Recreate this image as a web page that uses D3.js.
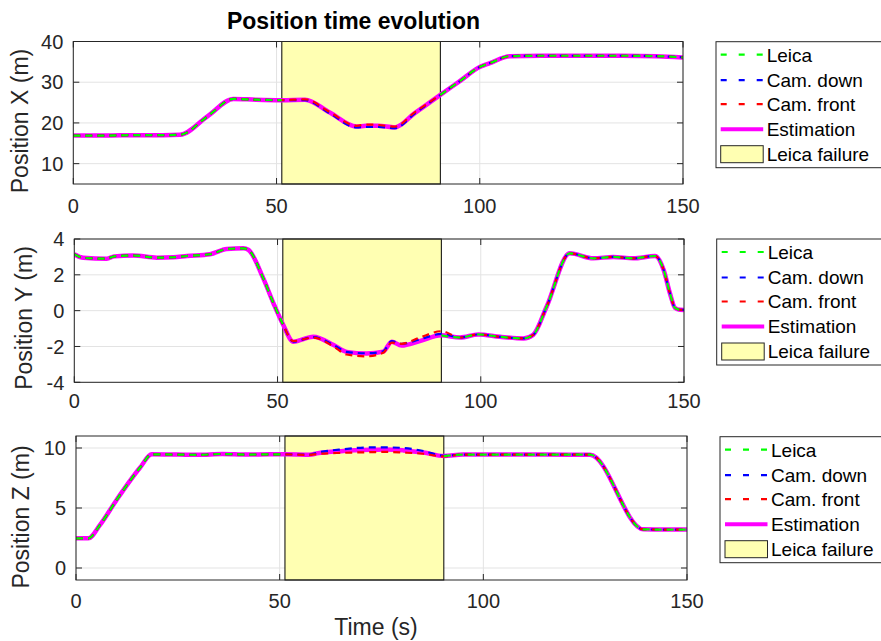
<!DOCTYPE html>
<html><head><meta charset="utf-8">
<script src="https://cdn.jsdelivr.net/npm/d3@7"></script>
<style>body{margin:0;background:#fff} svg{display:block}</style>
</head><body>
<script>
// ---------- DATA ----------
const failureStart = 51.3, failureEnd = 90.3;
const timeTicks = [0, 50, 100, 150];
const seriesNames = ["Leica", "Cam. down", "Cam. front", "Estimation", "Leica failure"];

// Position X
const xTime      = [0, 8, 15, 22, 26.3, 33, 39.4, 45, 51.3, 57, 63, 69.7, 72, 75, 79.1, 84, 90.3, 95, 100.1, 102.5, 107.4, 115, 125, 135, 143.5, 150];
const xEstimation= [16.9, 16.9, 17.0, 17.0, 17.1, 21.6, 25.9, 25.7, 25.6, 25.7, 22.6, 19.1, 19.3, 19.3, 18.9, 22.4, 26.9, 30.2, 33.8, 34.7, 36.4, 36.5, 36.5, 36.5, 36.4, 36.1];
const xLeica     = [16.9, 16.9, 17.0, 17.0, 17.1, 21.6, 25.9, 25.7, 25.6, null, null, null, null, null, null, null, 26.9, 30.2, 33.8, 34.7, 36.4, 36.5, 36.5, 36.5, 36.4, 36.1];
const xCamDown   = [16.9, 16.9, 17.0, 17.0, 17.1, 21.6, 25.9, 25.7, 25.6, 25.6, 22.4, 18.9, 19.0, 19.0, 18.7, 22.3, 26.9, 30.2, 33.8, 34.7, 36.4, 36.5, 36.5, 36.5, 36.4, 36.1];
const xCamFront  = [16.9, 16.9, 17.0, 17.0, 17.1, 21.6, 25.9, 25.7, 25.6, 25.8, 22.7, 19.3, 19.6, 19.5, 19.1, 22.6, 26.9, 30.2, 33.8, 34.7, 36.4, 36.5, 36.5, 36.5, 36.4, 36.1];
const xTicksY    = [10, 20, 30, 40];

// Position Y
const yTime      = [0, 2.2, 8, 9.8, 14.5, 20.3, 24.4, 27.7, 33.4, 37.5, 41.6, 42.8, 46.5, 49, 51.3, 53.9, 58.8, 63.8, 67, 71.9, 76, 78.1, 80.5, 85, 90.3, 94.9, 99.4, 104.7, 110.5, 112.9, 116.2, 121.9, 127.7, 132.6, 137.5, 142.9, 145, 146.5, 147.8, 149, 150];
const yEstimation= [3.15, 2.95, 2.9, 3.03, 3.08, 2.96, 2.98, 3.05, 3.15, 3.44, 3.48, 3.4, 1.8, 0.41, -0.75, -1.73, -1.46, -1.92, -2.3, -2.39, -2.29, -1.73, -1.95, -1.7, -1.38, -1.5, -1.33, -1.46, -1.55, -1.35, 0.22, 3.2, 2.92, 3.0, 2.92, 3.05, 2.27, 1.0, 0.15, 0.05, 0.04];
const yLeica     = [3.15, 2.95, 2.9, 3.03, 3.08, 2.96, 2.98, 3.05, 3.15, 3.44, 3.48, 3.4, 1.8, 0.41, -0.75, null, null, null, null, null, null, null, null, null, -1.38, -1.5, -1.33, -1.46, -1.55, -1.35, 0.22, 3.2, 2.92, 3.0, 2.92, 3.05, 2.27, 1.0, 0.15, 0.05, 0.04];
const yCamDown   = [3.15, 2.95, 2.9, 3.03, 3.08, 2.96, 2.98, 3.05, 3.15, 3.44, 3.48, 3.4, 1.8, 0.41, -0.75, -1.73, -1.48, -1.92, -2.3, -2.38, -2.27, -1.7, -1.85, -1.6, -1.3, -1.5, -1.33, -1.46, -1.55, -1.35, 0.22, 3.2, 2.92, 3.0, 2.92, 3.05, 2.27, 1.0, 0.15, 0.05, 0.04];
const yCamFront  = [3.15, 2.95, 2.9, 3.03, 3.08, 2.96, 2.98, 3.05, 3.15, 3.44, 3.48, 3.4, 1.8, 0.41, -0.75, -1.7, -1.5, -2.0, -2.45, -2.55, -2.35, -1.78, -1.85, -1.5, -1.15, -1.5, -1.33, -1.46, -1.55, -1.35, 0.22, 3.2, 2.92, 3.0, 2.92, 3.05, 2.27, 1.0, 0.15, 0.05, 0.04];
const yTicksY    = [-4, -2, 0, 2, 4];

// Position Z
const zTime      = [0, 3, 5.9, 10, 15.7, 18.6, 25, 30, 35.9, 42, 47.6, 51.3, 57.4, 59.1, 65.6, 72.2, 76, 80.4, 85.3, 90.3, 95, 105, 115, 126.2, 139.3, 145, 150];
const zEstimation= [2.47, 2.47, 3.59, 5.69, 8.35, 9.47, 9.45, 9.43, 9.5, 9.45, 9.47, 9.47, 9.44, 9.55, 9.75, 9.85, 9.88, 9.8, 9.62, 9.33, 9.45, 9.45, 9.45, 9.44, 3.22, 3.2, 3.2];
const zLeica     = [2.47, 2.47, 3.59, 5.69, 8.35, 9.47, 9.45, 9.43, 9.5, 9.45, 9.47, 9.47, null, null, null, null, null, null, null, 9.33, 9.45, 9.45, 9.45, 9.44, 3.22, 3.2, 3.2];
const zCamDown   = [2.47, 2.47, 3.59, 5.69, 8.35, 9.47, 9.45, 9.43, 9.5, 9.45, 9.47, 9.47, 9.45, 9.6, 9.9, 10.05, 10.05, 10.0, 9.75, 9.35, 9.45, 9.45, 9.45, 9.44, 3.22, 3.2, 3.2];
const zCamFront  = [2.47, 2.47, 3.59, 5.69, 8.35, 9.47, 9.45, 9.43, 9.5, 9.45, 9.47, 9.47, 9.42, 9.5, 9.6, 9.65, 9.68, 9.62, 9.52, 9.3, 9.45, 9.45, 9.45, 9.44, 3.22, 3.2, 3.2];
const zTicksY    = [0, 5, 10];

// ---------- LAYOUT ----------
const W = 881, H = 641;
const panels = [
  {label: "Position X (m)", time: xTime, leica: xLeica, down: xCamDown, front: xCamFront, est: xEstimation,
   yDomain: [5, 40], yTicks: xTicksY, l: 73.3, r: 683, t: 41.5, b: 184, labelX: 28.4, labelY: 121, tickDy: 28.7,
   legX: 716, legY: 41.7, legS: 720.7},
  {label: "Position Y (m)", time: yTime, leica: yLeica, down: yCamDown, front: yCamFront, est: yEstimation,
   yDomain: [-4, 4], yTicks: yTicksY, l: 74.3, r: 684, t: 239, b: 382.3, labelX: 32, labelY: 318, tickDy: 26,
   legX: 716.7, legY: 239, legS: 721.7},
  {label: "Position Z (m)", time: zTime, leica: zLeica, down: zCamDown, front: zCamFront, est: zEstimation,
   yDomain: [-1, 11], yTicks: zTicksY, l: 76, r: 687, t: 436, b: 580, labelX: 28.5, labelY: 517, tickDy: 28,
   legX: 720, legY: 436.7, legS: 725}
];

const FONT = "'Liberation Sans', Arial, Helvetica, sans-serif";
const AX = "#262626";
const colors = {leica: "#00ff00", down: "#0000ff", front: "#ff0000", est: "#ff00ff", fail: "#ffffb2"};

const svg = d3.select("body").append("svg").attr("width", W).attr("height", H)
  .style("font-family", FONT);

panels.forEach((p, i) => {
  const x = d3.scaleLinear().domain([0, 150]).range([p.l, p.r]);
  const y = d3.scaleLinear().domain(p.yDomain).range([p.b, p.t]);
  const g = svg.append("g");
  const clipId = "clip" + i;
  svg.append("clipPath").attr("id", clipId).append("rect")
    .attr("x", p.l).attr("y", p.t).attr("width", p.r - p.l).attr("height", p.b - p.t);

  // grid
  g.append("g").selectAll("line").data(p.yTicks).join("line")
    .attr("x1", p.l).attr("x2", p.r).attr("y1", d => y(d)).attr("y2", d => y(d))
    .attr("stroke", "#e3e3e3").attr("stroke-width", 1);
  g.append("g").selectAll("line").data(timeTicks).join("line")
    .attr("x1", d => x(d)).attr("x2", d => x(d)).attr("y1", p.t).attr("y2", p.b)
    .attr("stroke", "#e3e3e3").attr("stroke-width", 1);

  // ticks (inward)
  const tl = 6;
  timeTicks.forEach(d => {
    g.append("line").attr("x1", x(d)).attr("x2", x(d)).attr("y1", p.b).attr("y2", p.b - tl).attr("stroke", AX);
    g.append("line").attr("x1", x(d)).attr("x2", x(d)).attr("y1", p.t).attr("y2", p.t + tl).attr("stroke", AX);
  });
  p.yTicks.forEach(d => {
    g.append("line").attr("x1", p.l).attr("x2", p.l + tl).attr("y1", y(d)).attr("y2", y(d)).attr("stroke", AX);
    g.append("line").attr("x1", p.r).attr("x2", p.r - tl).attr("y1", y(d)).attr("y2", y(d)).attr("stroke", AX);
  });

  // failure patch
  g.append("rect").attr("x", x(failureStart)).attr("y", p.t)
    .attr("width", x(failureEnd) - x(failureStart)).attr("height", p.b - p.t)
    .attr("fill", colors.fail).attr("stroke", "#000").attr("stroke-width", 1);

  // lines
  const lines = g.append("g").attr("clip-path", `url(#${clipId})`);
  const mk = vals => p.time.map((t, k) => ({t, v: vals[k]}));
  const lineGen = d3.line().defined(d => d.v != null).x(d => x(d.t)).y(d => y(d.v)).curve(d3.curveMonotoneX);
  lines.append("path").attr("d", lineGen(mk(p.est))).attr("fill", "none")
    .attr("stroke", colors.est).attr("stroke-width", 4.5).attr("stroke-linejoin", "round");
  [["down", p.down], ["front", p.front], ["leica", p.leica]].forEach(([k, vals]) => {
    lines.append("path").attr("d", lineGen(mk(vals))).attr("fill", "none")
      .attr("stroke", colors[k]).attr("stroke-width", 2.2).attr("stroke-dasharray", "7,5");
  });

  // box
  g.append("rect").attr("x", p.l).attr("y", p.t).attr("width", p.r - p.l).attr("height", p.b - p.t)
    .attr("fill", "none").attr("stroke", AX).attr("stroke-width", 1);

  // tick labels
  g.append("g").selectAll("text").data(timeTicks).join("text")
    .attr("x", d => x(d)).attr("y", p.b + p.tickDy).attr("text-anchor", "middle")
    .attr("font-size", 20).attr("fill", AX).text(d => d);
  g.append("g").selectAll("text").data(p.yTicks).join("text")
    .attr("x", p.l - 10).attr("y", d => y(d)).attr("dy", "0.36em").attr("text-anchor", "end")
    .attr("font-size", 20).attr("fill", AX).text(d => d);

  // y label
  g.append("text").attr("transform", `translate(${p.labelX},${p.labelY}) rotate(-90)`)
    .attr("text-anchor", "middle").attr("font-size", 23).attr("fill", AX).text(p.label);

  // legend
  const lg = svg.append("g");
  lg.append("rect").attr("x", p.legX).attr("y", p.legY).attr("width", 175).attr("height", 126)
    .attr("fill", "#fff").attr("stroke", AX).attr("stroke-width", 1);
  const rows = [13, 38.5, 62.5, 87.5, 112.5];
  const keys = ["leica", "down", "front", "est", "fail"];
  keys.forEach((k, j) => {
    const cy = p.legY + rows[j];
    if (k === "fail") {
      lg.append("rect").attr("x", p.legS).attr("y", cy - 8.5).attr("width", 42.5).attr("height", 17)
        .attr("fill", colors.fail).attr("stroke", AX).attr("stroke-width", 1);
    } else {
      lg.append("line").attr("x1", p.legS).attr("x2", p.legS + 42.5).attr("y1", cy).attr("y2", cy)
        .attr("stroke", colors[k]).attr("stroke-width", k === "est" ? 4 : 2.2)
        .attr("stroke-dasharray", k === "est" ? null : "6,12");
    }
    lg.append("text").attr("x", p.legS + 46).attr("y", cy).attr("dy", "0.36em")
      .attr("font-size", 19).attr("fill", "#000").text(seriesNames[j]);
  });
});

// title & x label
svg.append("text").attr("x", 353.5).attr("y", 29).attr("text-anchor", "middle")
  .attr("font-size", 23).attr("font-weight", "bold").attr("fill", "#000").text("Position time evolution");
svg.append("text").attr("x", 376).attr("y", 635).attr("text-anchor", "middle")
  .attr("font-size", 23).attr("fill", AX).text("Time (s)");
</script>
</body></html>
